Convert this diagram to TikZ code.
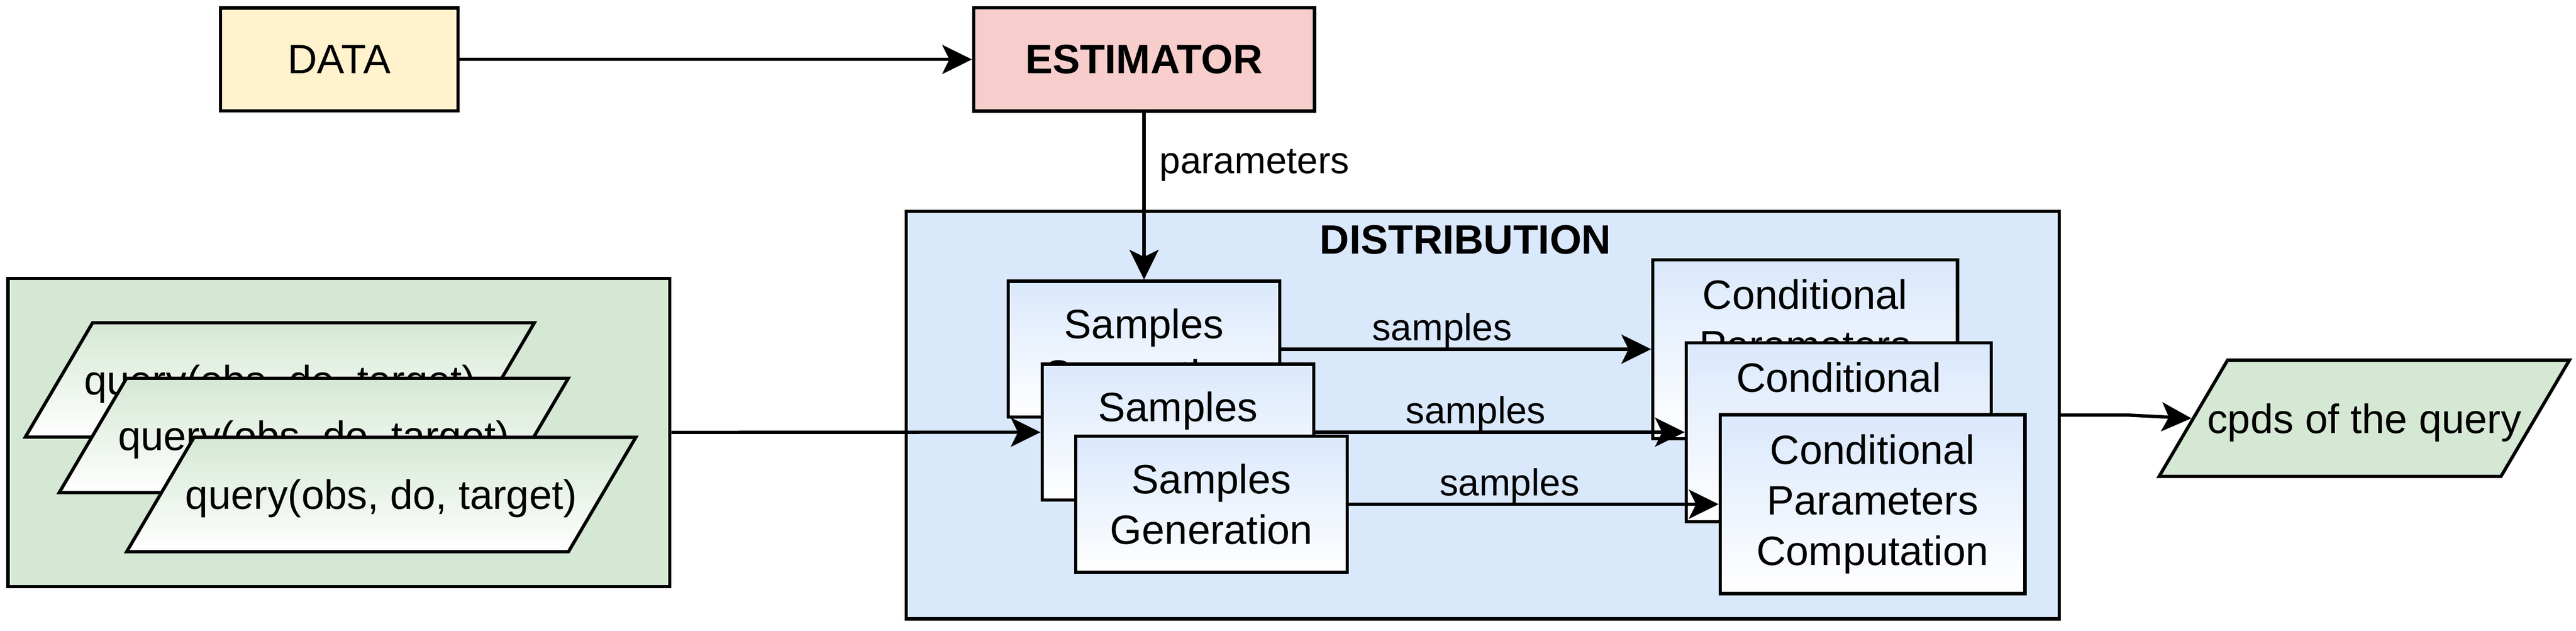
\documentclass[tikz,border=0pt]{standalone}
\usepackage{fontspec}
\setmainfont{Liberation Sans}
\usetikzlibrary{shapes.geometric, positioning, arrows.meta}
\usepackage{xcolor}
\definecolor{DataYellow}{HTML}{FFF2CC}
\definecolor{EstimatorRed}{HTML}{F8CECC}
\definecolor{DistBlue}{HTML}{DAE8FC}
\definecolor{QueryGreen}{HTML}{D5E8D4}

\tikzset{
    block/.style={draw, line width=2.9pt, inner sep=0pt, align=center,
        font=\fontsize{36.1}{44.5}\selectfont},
    genbox/.style={block, top color=DistBlue, bottom color=white,
        minimum width=8.41cm, minimum height=4.21cm},
    condbox/.style={block, top color=DistBlue, bottom color=white,
        minimum width=9.44cm, minimum height=5.54cm},
    slanted/.style={block, trapezium, trapezium left angle=59.5,
        trapezium right angle=120.5, trapezium stretches body=true},
    flow/.style={line width=2.9pt,
        -{Stealth[length=0.92cm, width=0.9cm, inset=0.22cm]}},
    flowlabel/.style={font=\fontsize{33.1}{40}\selectfont, anchor=base}
}

\begin{document}
\begin{tikzpicture}
    \useasboundingbox (0,0) rectangle (79.8,-19.53);

    % Top row
    \node[block, fill=DataYellow, minimum width=7.35cm, minimum height=3.18cm] (data) at (10.51,-1.84) {DATA};
    \node[block, fill=EstimatorRed, minimum width=10.56cm, minimum height=3.2cm,
        font=\fontsize{36.1}{44.5}\selectfont\bfseries] (estimator) at (35.44,-1.84) {ESTIMATOR};

    % Containers
    \node[block, fill=DistBlue, minimum width=35.72cm, minimum height=12.62cm] (dist) at (45.93,-12.85) {};
    \node[font=\fontsize{36.1}{44.5}\selectfont\bfseries] (distlabel) at (45.4,-7.42) {DISTRIBUTION};
    \node[block, fill=QueryGreen, minimum width=20.5cm, minimum height=9.54cm] (queries) at (10.5,-13.39) {};

    % Stacked queries
    \foreach \i/\x/\y in {1/8.67/11.76, 2/9.72/13.48, 3/11.81/15.31} {
        \node[slanted, top color=QueryGreen, bottom color=white, minimum width=15.77cm,
            text height=2.227cm, text depth=1.313cm] (query\i) at (\x,-\y) {\makebox[0pt]{query(obs, do, target)}};
    }

    % Stacked generators and conditional computations
    \foreach \i/\x/\y in {1/35.44/10.81, 2/36.49/13.38, 3/37.53/15.61} {
        \node[genbox] (gen\i) at (\x,-\y) {Samples\\Generation};
    }
    \foreach \i/\x/\y in {1/55.92/10.81, 2/56.96/13.38, 3/58.01/15.61} {
        \node[condbox] (cond\i) at (\x,-\y) {Conditional\\Parameters\\Computation};
    }

    % Output
    \node[slanted, fill=QueryGreen, minimum width=12.71cm, text height=2.257cm, text depth=1.343cm]
        (cpds) at (73.24,-12.95) {\makebox[0pt]{cpds of the query}};

    % Connectors
    \draw[flow] (data) -- (estimator);
    \draw[flow] (estimator) -- node[flowlabel, anchor=base west, xshift=0.31cm, yshift=0.7cm] (paramlabel) {parameters} (gen1);
    \foreach \i in {1,2,3} {
        \draw[flow] (gen\i) -- node[flowlabel, xshift=-0.75cm, yshift=0.27cm] (samples\i) {samples} (cond\i);
    }
    \draw[flow] (queries) -- (gen2);
    \draw[flow] (dist.east) -- ++(2.07,0) -- (cpds.west);
\end{tikzpicture}
\end{document}
